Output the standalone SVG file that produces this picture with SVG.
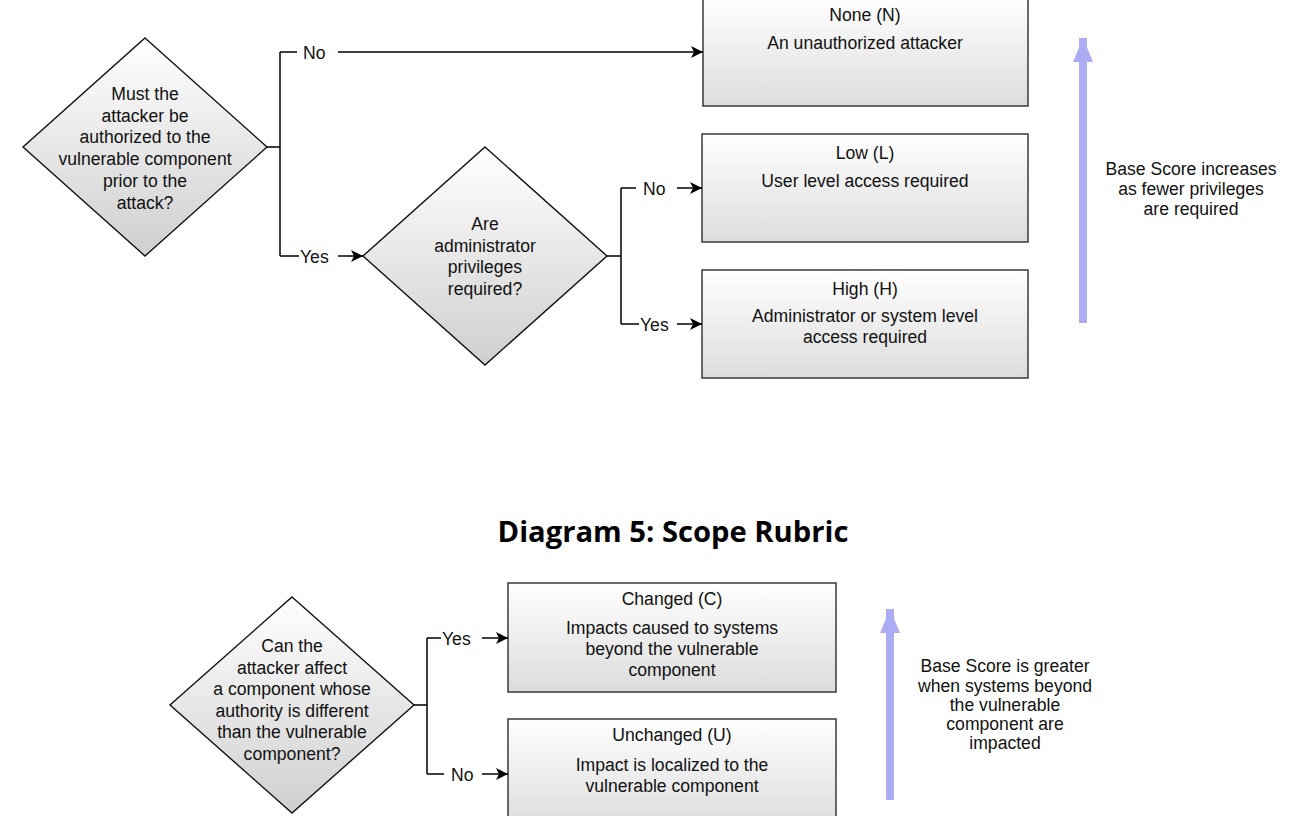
<svg xmlns="http://www.w3.org/2000/svg" width="1291" height="816" viewBox="0 0 1291 816">
<defs>
<linearGradient id="gBox" x1="0" y1="0" x2="0" y2="1">
<stop offset="0" stop-color="#ffffff"/>
<stop offset="1" stop-color="#dcdcdc"/>
</linearGradient>
<linearGradient id="gDia" x1="0" y1="0" x2="0" y2="1">
<stop offset="0" stop-color="#ffffff"/>
<stop offset="1" stop-color="#cfcfcf"/>
</linearGradient>
<marker id="arr" viewBox="0 0 12 12" refX="12" refY="6" markerWidth="12" markerHeight="12" markerUnits="userSpaceOnUse" orient="auto">
<path d="M0,0 L12,6 L0,12 L3,6 Z" fill="#000"/>
</marker>
<marker id="parr" viewBox="0 0 26 20" refX="24" refY="10" markerWidth="26" markerHeight="20" markerUnits="userSpaceOnUse" orient="auto">
<path d="M0,0 L24,10 L0,20 Z" fill="#abacf3"/>
</marker>
</defs>
<style>
.box{fill:url(#gBox);stroke:#3a3a3a;stroke-width:1.5}
.dia{fill:url(#gDia);stroke:#111;stroke-width:1.4}
.t{font-family:"Liberation Sans",Arial,sans-serif;font-size:17.6px;fill:#111;text-anchor:middle}
.lbl{font-family:"Liberation Sans",Arial,sans-serif;font-size:17.6px;fill:#111}
.c{fill:none;stroke:#000;stroke-width:1.5}
.p{fill:none;stroke:#abacf3;stroke-width:8}
.title{font-family:"Open Sans",sans-serif;font-weight:bold;font-size:29.2px;fill:#000;text-anchor:middle}
</style>

<g id="q1">
<polygon class="dia" points="145,38 267,147 145,256 23,147"/>
<text class="t" x="145" y="100">Must the</text>
<text class="t" x="145" y="121.7">attacker be</text>
<text class="t" x="145" y="143.4">authorized to the</text>
<text class="t" x="145" y="165.1">vulnerable component</text>
<text class="t" x="145" y="186.8">prior to the</text>
<text class="t" x="145" y="208.5">attack?</text>
</g>

<g id="q2">
<polygon class="dia" points="485,147 607,256 485,365 363,256"/>
<text class="t" x="485" y="230">Are</text>
<text class="t" x="485" y="251.7">administrator</text>
<text class="t" x="485" y="273.4">privileges</text>
<text class="t" x="485" y="295.1">required?</text>
</g>

<g id="none">
<rect class="box" x="703" y="-2" width="325" height="108"/>
<text class="t" x="865" y="21">None (N)</text>
<text class="t" x="865" y="49">An unauthorized attacker</text>
</g>

<g id="low">
<rect class="box" x="702" y="134" width="326" height="108"/>
<text class="t" x="865" y="159">Low (L)</text>
<text class="t" x="865" y="187">User level access required</text>
</g>

<g id="high">
<rect class="box" x="702" y="270" width="326" height="108"/>
<text class="t" x="865" y="295">High (H)</text>
<text class="t" x="865" y="322">Administrator or system level</text>
<text class="t" x="865" y="343">access required</text>
</g>

<g id="priv-arrow">
<line class="p" x1="1083" y1="323" x2="1083" y2="38" marker-end="url(#parr)"/>
<text class="t" x="1191" y="175">Base Score increases</text>
<text class="t" x="1191" y="195">as fewer privileges</text>
<text class="t" x="1191" y="215">are required</text>
</g>

<g id="title">
<text class="title" x="673" y="542">Diagram 5: Scope Rubric</text>
</g>

<g id="q3">
<polygon class="dia" points="292,597 414,705 292,813 170,705"/>
<text class="t" x="292" y="652">Can the</text>
<text class="t" x="292" y="673.6">attacker affect</text>
<text class="t" x="292" y="695.2">a component whose</text>
<text class="t" x="292" y="716.8">authority is different</text>
<text class="t" x="292" y="738.4">than the vulnerable</text>
<text class="t" x="292" y="760">component?</text>
</g>

<g id="changed">
<rect class="box" x="508" y="583" width="328" height="109"/>
<text class="t" x="672" y="605">Changed (C)</text>
<text class="t" x="672" y="634">Impacts caused to systems</text>
<text class="t" x="672" y="655">beyond the vulnerable</text>
<text class="t" x="672" y="676">component</text>
</g>

<g id="unchanged">
<rect class="box" x="508" y="719" width="328" height="109"/>
<text class="t" x="672" y="741">Unchanged (U)</text>
<text class="t" x="672" y="771">Impact is localized to the</text>
<text class="t" x="672" y="792">vulnerable component</text>
</g>

<g id="scope-arrow">
<line class="p" x1="890" y1="800" x2="890" y2="609" marker-end="url(#parr)"/>
<text class="t" x="1005" y="672">Base Score is greater</text>
<text class="t" x="1005" y="692">when systems beyond</text>
<text class="t" x="1005" y="711">the vulnerable</text>
<text class="t" x="1005" y="730">component are</text>
<text class="t" x="1005" y="749">impacted</text>
</g>

<g id="connectors">
<path class="c" d="M267,147 H280 M280,52 V256 M280,52 H297 M280,256 H299"/>
<line class="c" x1="338" y1="52" x2="703" y2="52" marker-end="url(#arr)"/>
<line class="c" x1="338" y1="256" x2="363" y2="256" marker-end="url(#arr)"/>
<text class="lbl" x="303" y="58.5">No</text>
<text class="lbl" x="300" y="262.5">Yes</text>

<path class="c" d="M607,256 H621 M621,188 V324 M621,188 H636 M621,324 H639"/>
<line class="c" x1="677" y1="188" x2="702" y2="188" marker-end="url(#arr)"/>
<line class="c" x1="677" y1="324" x2="702" y2="324" marker-end="url(#arr)"/>
<text class="lbl" x="643" y="194.5">No</text>
<text class="lbl" x="640" y="330.5">Yes</text>

<path class="c" d="M414,705 H427 M427,638 V774 M427,638 H441 M427,774 H444"/>
<line class="c" x1="482" y1="638" x2="508" y2="638" marker-end="url(#arr)"/>
<line class="c" x1="482" y1="774" x2="508" y2="774" marker-end="url(#arr)"/>
<text class="lbl" x="442" y="644.5">Yes</text>
<text class="lbl" x="451" y="780.5">No</text>
</g>
</svg>
